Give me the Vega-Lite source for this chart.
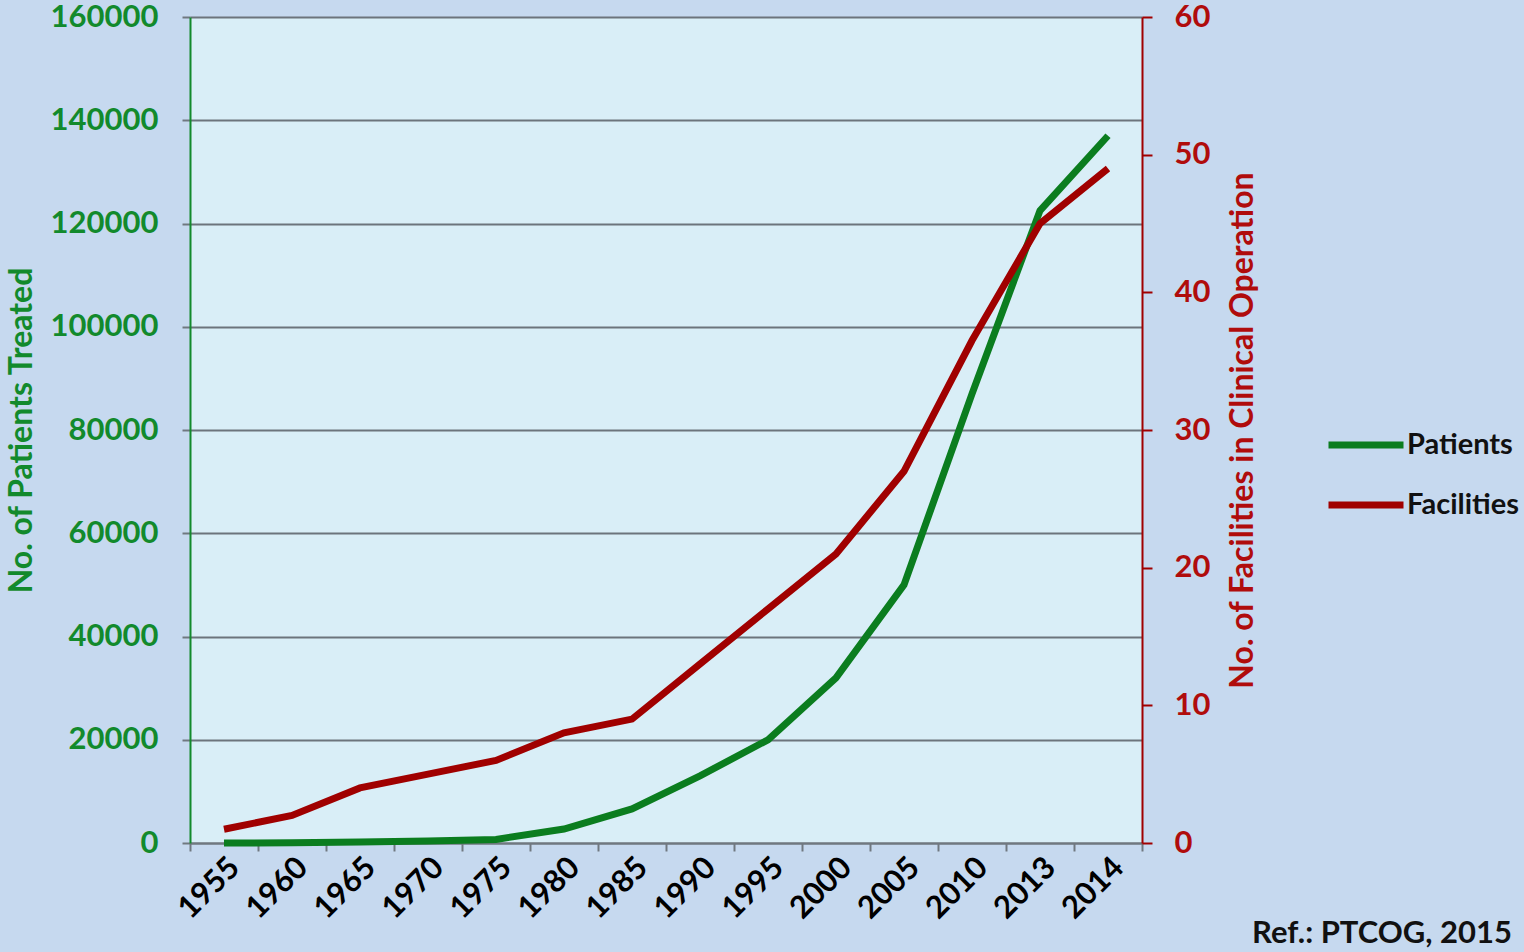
{
  "$schema": "https://vega.github.io/schema/vega-lite/v6.json",
  "autosize": "none",
  "width": 952,
  "height": 826,
  "padding": {"left": 190, "top": 17, "right": 382, "bottom": 109},
  "background": "#c6d9ef",
  "config": {
    "view": {"fill": "#d9eef7", "stroke": null},
    "font": "Lato"
  },
  "title": {
    "text": "Ref.: PTCOG, 2015",
    "orient": "bottom",
    "anchor": "end",
    "frame": "group",
    "dx": 370,
    "dy": -9,
    "fontSize": 31,
    "fontWeight": "bold",
    "color": "#111111",
    "font": "Lato"
  },
  "data": {
    "values": [
      {"year": "1955", "patients": 0, "facilities": 1},
      {"year": "1960", "patients": 50, "facilities": 2},
      {"year": "1965", "patients": 200, "facilities": 4},
      {"year": "1970", "patients": 400, "facilities": 5},
      {"year": "1975", "patients": 700, "facilities": 6},
      {"year": "1980", "patients": 2700, "facilities": 8},
      {"year": "1985", "patients": 6600, "facilities": 9},
      {"year": "1990", "patients": 13000, "facilities": 13},
      {"year": "1995", "patients": 20000, "facilities": 17},
      {"year": "2000", "patients": 32000, "facilities": 21},
      {"year": "2005", "patients": 50000, "facilities": 27},
      {"year": "2010", "patients": 87000, "facilities": 36.5},
      {"year": "2013", "patients": 122500, "facilities": 45},
      {"year": "2014", "patients": 137000, "facilities": 49}
    ]
  },
  "encoding": {
    "x": {
      "field": "year",
      "type": "nominal",
      "sort": null,
      "scale": {"type": "band", "paddingInner": 0, "paddingOuter": 0},
      "axis": {
        "title": null,
        "labelAngle": -45,
        "labelAlign": "right",
        "labelBaseline": "top",
        "labelFontSize": 31,
        "labelFontWeight": "bold",
        "labelColor": "#000000",
        "labelPadding": 1,
        "tickBand": "extent",
        "tickColor": "#707880",
        "tickSize": 8,
        "tickWidth": 2,
        "domainColor": "#707880",
        "domainWidth": 2,
        "grid": false
      }
    }
  },
  "layer": [
    {
      "mark": {"type": "line", "strokeWidth": 7, "strokeJoin": "miter"},
      "encoding": {
        "y": {
          "field": "patients",
          "type": "quantitative",
          "scale": {"domain": [0, 160000], "nice": false},
          "axis": {
            "title": "No. of Patients Treated",
            "titleColor": "#128a2c",
            "titleFontSize": 32,
            "titleFontWeight": "bold",
            "titlePadding": 12,
            "values": [0, 20000, 40000, 60000, 80000, 100000, 120000, 140000, 160000],
            "format": "d",
            "labelFontSize": 31,
            "labelFontWeight": "bold",
            "labelColor": "#128a2c",
            "labelPadding": 24,
            "tickColor": "#707880",
            "tickSize": 8,
            "tickWidth": 2,
            "domainColor": "#128a2c",
            "domainWidth": 2,
            "grid": true,
            "gridColor": "#6c747c",
            "gridWidth": 2,
            "gridOpacity": 1
          }
        },
        "color": {"datum": "Patients"}
      }
    },
    {
      "mark": {"type": "line", "strokeWidth": 7, "strokeJoin": "miter"},
      "encoding": {
        "y": {
          "field": "facilities",
          "type": "quantitative",
          "scale": {"domain": [0, 60], "nice": false},
          "axis": {
            "orient": "right",
            "title": "No. of Facilities in Clinical Operation",
            "titleAngle": 270,
            "titleBaseline": "top",
            "titleColor": "#b00c0c",
            "titleFontSize": 32,
            "titleFontWeight": "bold",
            "titlePadding": 18,
            "values": [0, 10, 20, 30, 40, 50, 60],
            "labelFontSize": 31,
            "labelFontWeight": "bold",
            "labelColor": "#b00c0c",
            "labelPadding": 22,
            "tickColor": "#a00000",
            "tickSize": 10,
            "tickWidth": 2,
            "domainColor": "#a00000",
            "domainWidth": 2,
            "grid": false
          }
        },
        "color": {
          "datum": "Facilities",
          "scale": {"domain": ["Patients", "Facilities"], "range": ["#0b7d1f", "#a00000"]},
          "legend": {
            "title": null,
            "orient": "none",
            "legendX": 1135,
            "legendY": 387,
            "padding": 0,
            "symbolType": "stroke",
            "symbolSize": 5625,
            "symbolStrokeWidth": 7,
            "labelFontSize": 29,
            "labelFontWeight": "bold",
            "labelColor": "#111111",
            "labelOffset": 0,
            "rowPadding": 4
          }
        }
      }
    }
  ],
  "resolve": {"scale": {"y": "independent"}}
}
